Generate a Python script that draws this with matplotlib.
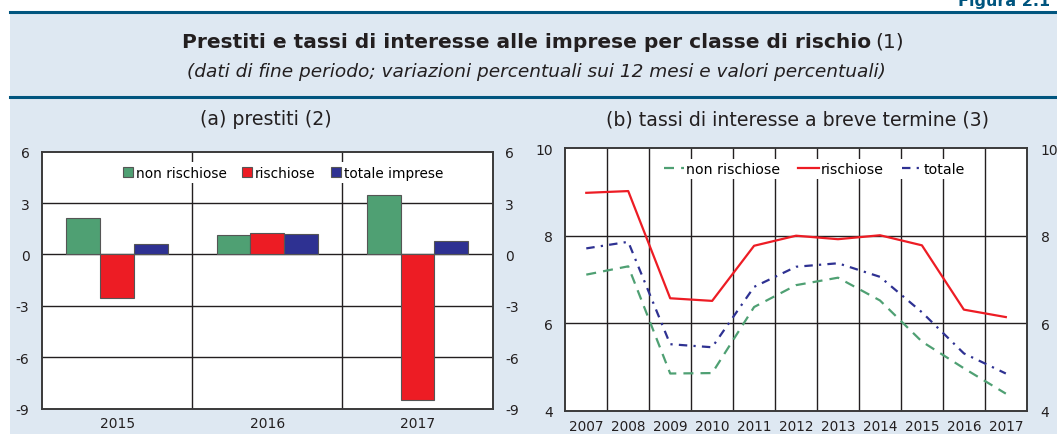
import numpy as np
import matplotlib
matplotlib.use('Agg')
import matplotlib.pyplot as plt
from matplotlib.patches import Rectangle
from matplotlib.lines import Line2D

plt.rcParams['font.family'] = ['DejaVu Sans']
plt.rcParams['axes.unicode_minus'] = False

BG = '#dee8f2'
DARK = '#00557f'
GREEN = '#4fa073'
RED = '#ed1c24'
BLUE = '#2e3192'
TXT = '#231f20'

# panel (a): loans, % change over 12 months
bar_years = ['2015', '2016', '2017']
loans_nonrisk = [2.13, 1.12, 3.47]
loans_risk = [-2.56, 1.28, -8.52]
loans_total = [0.63, 1.18, 0.77]

# panel (b): short-term interest rates
rate_years = ['2007', '2008', '2009', '2010', '2011', '2012', '2013', '2014', '2015', '2016', '2017']
rate_nonrisk = [7.11, 7.30, 4.85, 4.86, 6.37, 6.87, 7.04, 6.52, 5.58, 4.97, 4.39]
rate_risk = [8.98, 9.02, 6.57, 6.51, 7.77, 8.00, 7.92, 8.01, 7.78, 6.31, 6.14]
rate_total = [7.71, 7.86, 5.52, 5.45, 6.83, 7.29, 7.37, 7.06, 6.25, 5.31, 4.85]

W, H = 1057, 435
fig = plt.figure(figsize=(W / 100, H / 100), dpi=100)
fig.patch.set_facecolor('white')


def fy(py):
    return 1 - py / H


# background panel and rules
fig.patches.append(Rectangle((10 / W, 0), 1, fy(12), transform=fig.transFigure,
                             facecolor=BG, edgecolor='none', zorder=-10))
fig.add_artist(Line2D([10 / W, 1], [fy(12.5)] * 2, color=DARK, lw=2.2))
fig.add_artist(Line2D([10 / W, 1], [fy(98)] * 2, color=DARK, lw=2.2))
fig.text(958 / W, fy(6), 'Figura 2.1', ha='left', va='baseline', fontsize=11.5,
         fontweight='bold', color=DARK)

fig.text(871 / W, fy(48), 'Prestiti e tassi di interesse alle imprese per classe di rischio',
         ha='right', va='baseline', fontsize=14.5, fontweight='bold', color=TXT)
fig.text(875 / W, fy(48), '(1)', ha='left', va='baseline', fontsize=14.5, color=TXT)
fig.text(536 / W, fy(77), '(dati di fine periodo; variazioni percentuali sui 12 mesi e valori percentuali)',
         ha='center', va='baseline', fontsize=13.3, style='italic', color=TXT)
fig.text(266 / W, fy(125), '(a) prestiti (2)', ha='center', va='baseline', fontsize=13.6, color=TXT)
fig.text(797 / W, fy(125), '(b) tassi di interesse a breve termine (3)', ha='center',
         va='baseline', fontsize=13.6, color=TXT)


def style_axes(ax):
    ax.set_facecolor('white')
    for s in ax.spines.values():
        s.set_color('#3a3a3a')
        s.set_linewidth(1.2)
    ax.tick_params(length=0, labelsize=10, colors=TXT, pad=9)
    ax.tick_params(axis='x', pad=5)
    ax.set_axisbelow(True)


def white_legend(leg):
    fr = leg.get_frame()
    fr.set_edgecolor('none')
    fr.set_facecolor('white')
    fr.set_alpha(1)
    leg.set_zorder(5)


# ---- panel (a)
ax1 = fig.add_axes([42 / W, fy(409.7), (492.6 - 42) / W, (409.7 - 152.6) / H])
style_axes(ax1)
x = np.arange(len(bar_years))
bw = 0.225
kw = dict(width=bw, edgecolor='#555555', linewidth=0.8, zorder=3)
ax1.bar(x - bw, loans_nonrisk, color=GREEN, label='non rischiose', **kw)
ax1.bar(x, loans_risk, color=RED, label='rischiose', **kw)
ax1.bar(x + bw, loans_total, color=BLUE, label='totale imprese', **kw)
ax1.set_xlim(-0.5, 2.5)
ax1.set_ylim(-9, 6)
ax1.set_yticks([-9, -6, -3, 0, 3, 6])
ax1.set_xticks(x)
ax1.set_xticklabels(bar_years)
for b in [0.5, 1.5]:
    ax1.axvline(b, color=TXT, lw=1, zorder=1)
for yv in [-6, -3, 0, 3]:
    ax1.axhline(yv, color=TXT, lw=1, zorder=1)
ax1r = ax1.twinx()
ax1r.set_ylim(-9, 6)
ax1r.set_yticks([-9, -6, -3, 0, 3, 6])
style_axes(ax1r)
leg = ax1.legend(loc='upper center', bbox_to_anchor=(0.535, 0.985), ncol=3, frameon=True,
                 fontsize=9.8, handlelength=0.75, handleheight=0.75, handletextpad=0.2,
                 columnspacing=1.15, borderpad=0.25, fancybox=False)
white_legend(leg)

# ---- panel (b)
ax2 = fig.add_axes([565.3 / W, fy(411.7), (1026.8 - 565.3) / W, (411.7 - 149.2) / H])
style_axes(ax2)
xr = np.arange(len(rate_years))
ax2.plot(xr, rate_nonrisk, color=GREEN, lw=1.6, dashes=(4.5, 3.2), label='non rischiose', zorder=3)
ax2.plot(xr, rate_risk, color=RED, lw=1.6, label='rischiose', zorder=3)
ax2.plot(xr, rate_total, color=BLUE, lw=1.6, dashes=(3.8, 2.8, 1, 2.8), label='totale', zorder=3)
ax2.set_xlim(-0.5, len(rate_years) - 0.5)
ax2.set_ylim(4, 10)
ax2.set_yticks([4, 6, 8, 10])
ax2.set_xticks(xr)
ax2.set_xticklabels(rate_years)
for b in np.arange(0.5, len(rate_years) - 1, 1):
    ax2.axvline(b, color=TXT, lw=1, zorder=1)
for yv in [6, 8]:
    ax2.axhline(yv, color=TXT, lw=1, zorder=1)
ax2.tick_params(axis='x', labelsize=9.8, pad=6)
ax2r = ax2.twinx()
ax2r.set_ylim(4, 10)
ax2r.set_yticks([4, 6, 8, 10])
style_axes(ax2r)
ax2r.tick_params(pad=10)
leg2 = ax2.legend(loc='upper center', bbox_to_anchor=(0.54, 0.985), ncol=3, frameon=True,
                  fontsize=10.2, handlelength=1.45, handletextpad=0.1, columnspacing=1.3,
                  borderpad=0.2, fancybox=False)
white_legend(leg2)

fig.savefig('out.png', dpi=100, facecolor=fig.get_facecolor())
